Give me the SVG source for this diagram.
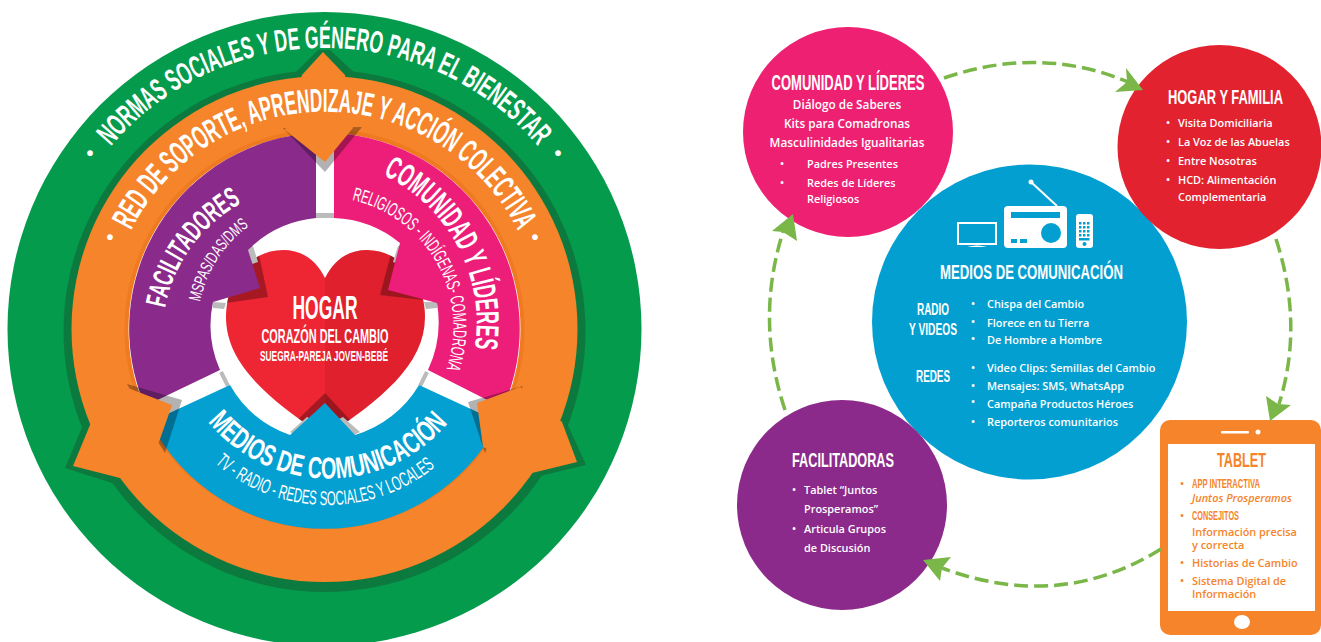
<svg xmlns="http://www.w3.org/2000/svg" width="1321" height="642" viewBox="0 0 1321 642">
<style>
text{fill:#fff;font-family:"Liberation Sans Narrow","Liberation Sans",sans-serif;font-weight:700}
.l{font-weight:400}
.b{font-family:"Open Sans","Noto Sans",sans-serif;font-weight:600;font-size:10.9px}
.c{font-size:11.800px}
.o{fill:#f5842b}
.m{text-anchor:middle}
.shade{fill:#000;fill-opacity:.3}
.conn{fill:none;stroke:#7ab648;stroke-width:3.5;stroke-dasharray:14 6}
.head{fill:#7ab648}
.gray{fill:none;stroke:#bbb;stroke-width:4}
.ic{fill:#049fd1}
</style>
<defs>
<path id="pg" d="M110.8,146.5A281,281 0 0 1 538.2,146.5"/>
<path id="po" d="M131,230.500A217,217 0 0 1 518,230.500"/>
<path id="pc" d="M383,175A164,164 0 0 1 475,347"/>
<path id="pr" d="M352,200A130,130 0 0 1 447,367"/>
<path id="pf" d="M165,308A151,151 0 0 1 242,203"/>
<path id="pd" d="M200,302A125,125 0 0 1 248,227"/>
<path id="pm" d="M208,422A156.600,156.600 0 0 0 448,423"/>
<path id="ps" d="M215,463A171,171 0 0 0 435,467"/>
<clipPath id="hc"><path d="M325,278C315,258 300,250 283,250C250,250 226,280 226,317C226,365 270,400 325,437C380,400 425,365 425,317C425,280 400,250 367,250C350,250 335,258 325,278Z"/></clipPath>
</defs>

<g id="normas">
<circle cx="324.500" cy="329" r="317" fill="#059b4d"/>
<circle cx="324.500" cy="331" r="261" fill="#0c7a3e"/>
<polygon points="293,75 318,50 330,50 357,75" fill="#0c7a3e"/>
<polygon points="558,420 567,423 586,465 536,477 525,482" fill="#0c7a3e"/>
<polygon points="90,420 85,420 65,468 115,484 125,482" fill="#0c7a3e"/>
<text font-size="31"><textPath href="#pg" textLength="485" lengthAdjust="spacingAndGlyphs">NORMAS SOCIALES Y DE GÉNERO PARA EL BIENESTAR</textPath></text>
<text class="m" x="90" y="160" font-size="20">•</text>
<text class="m" x="558" y="160" font-size="20">•</text>
</g>

<g id="red-soporte">
<circle cx="324.500" cy="329" r="253" fill="#f5842b"/>
<circle cx="324.500" cy="329" r="200" fill="#ef7a1f"/>
</g>

<g id="hogar">
<circle cx="324.500" cy="329" r="196" fill="#fff"/>
<path fill="#ee2533" d="M325,278C315,258 300,250 283,250C250,250 226,280 226,317C226,365 270,400 325,437Z"/>
<path fill="#e0202d" d="M325,278C335,258 350,250 367,250C400,250 425,280 425,317C425,365 380,400 325,437Z"/>
<g clip-path="url(#hc)">
<polygon class="shade" points="250,245 258,250 268,297 226,303 213,307 210,300"/>
<polygon class="shade" points="402,243 392,250 380,295 423,300 440,310 437,300"/>
<polygon class="shade" points="325,393 285,432 294,440 325,403 355,438 365,436"/>
</g>
<polygon fill="#bbb" points="246,246 253,246 258,262 252,264"/>
<polygon fill="#bbb" points="398,246 405,246 399,264 393,262"/>
<polygon fill="#bbb" points="213,302 226,303 224,309 213,308"/>
<polygon fill="#bbb" points="424,302 437,302 437,308 426,309"/>
<polygon fill="#bbb" points="307,417 315,421 299,437 290,432"/>
<polygon fill="#bbb" points="343,417 335,421 350,437 360,432"/>
<rect x="316" y="213" width="18" height="5" fill="#bbb"/>
<path class="gray" d="M221,372 228,386M427,372 420,386"/>
<text class="m" x="325" y="319" font-size="33" textLength="65" lengthAdjust="spacingAndGlyphs">HOGAR</text>
<text class="m" x="325" y="343" font-size="21" textLength="127" lengthAdjust="spacingAndGlyphs">CORAZÓN DEL CAMBIO</text>
<text class="m" x="324" y="361" font-size="15" textLength="128" lengthAdjust="spacingAndGlyphs">SUEGRA-PAREJA JOVEN-BEBÉ</text>
</g>

<g id="facilitadores">
<path fill="#8a2a8b" d="M220,370A111,111 0 0 1 213,302L260,288L248,250A111,111 0 0 1 316,218L316,133A196,196 0 0 0 145,406Z"/>
<text font-size="29"><textPath href="#pf" textLength="134" lengthAdjust="spacingAndGlyphs">FACILITADORES</textPath></text>
<text class="l" font-size="17"><textPath href="#pd" textLength="92" lengthAdjust="spacingAndGlyphs">MSPAS/DAS/DMS</textPath></text>
</g>

<g id="comunidad">
<path fill="#ed1e79" d="M334,218A111,111 0 0 1 400,243L388,290L437,303A113,113 0 0 1 428,370L503,408A196,196 0 0 0 334,133Z"/>
<text font-size="32"><textPath href="#pc" textLength="210" lengthAdjust="spacingAndGlyphs">COMUNIDAD Y LÍDERES</textPath></text>
<text class="l" font-size="19"><textPath href="#pr" textLength="218" lengthAdjust="spacingAndGlyphs">RELIGIOSOS - INDÍGENAS- COMADRONA</textPath></text>
</g>

<g id="medios">
<path fill="#04a0d2" d="M230,385A111,111 0 0 0 290,435L325,403L355,435A111,111 0 0 0 419,385L499,422A196,196 0 0 1 150,422Z"/>
<text font-size="30"><textPath href="#pm" textLength="273" lengthAdjust="spacingAndGlyphs">MEDIOS DE COMUNICACIÓN</textPath></text>
<text class="l" font-size="20"><textPath href="#ps" textLength="239" lengthAdjust="spacingAndGlyphs">TV - RADIO - REDES SOCIALES Y LOCALES</textPath></text>
</g>

<g id="flechas">
<polygon class="shade" points="283,128 325,172 362,127"/>
<polygon class="shade" points="523,386 468,402 485,453 490,440"/>
<polygon class="shade" points="127,384 182,400 165,453 158,442"/>
<polygon fill="#f5842b" points="302,75 323,52 345,75 353,128 325,162 285,130"/>
<polygon fill="#f5842b" points="520,387 562,422 577,462 532,473 483,447 477,403"/>
<polygon fill="#f5842b" points="128,388 172,405 159,442 120,478 73,466 90,425"/>
<text font-size="33"><textPath href="#po" textLength="478" lengthAdjust="spacingAndGlyphs">RED DE SOPORTE, APRENDIZAJE Y ACCIÓN COLECTIVA</textPath></text>
<text class="m" x="110" y="244" font-size="20">•</text>
<text class="m" x="535" y="244" font-size="20">•</text>
</g>

<g id="comunidad-lideres">
<circle cx="848" cy="132" r="105" fill="#ee2072"/>
<text class="m" x="848" y="90" font-size="22" textLength="153" lengthAdjust="spacingAndGlyphs">COMUNIDAD Y LÍDERES</text>
<text class="b c m" x="847" y="109">Diálogo de Saberes</text>
<text class="b c m" x="847" y="128">Kits para Comadronas</text>
<text class="b c m" x="847" y="147">Masculinidades Igualitarias</text>
<text class="b m" x="782" y="168">•</text>
<text class="b" x="807" y="168">Padres Presentes</text>
<text class="b m" x="782" y="187">•</text>
<text class="b" x="807" y="187">Redes de Líderes</text>
<text class="b" x="807" y="203">Religiosos</text>
</g>

<g id="medios-comunicacion">
<circle cx="1029.500" cy="322" r="157.500" fill="#049fd1"/>
<rect x="958" y="223" width="38" height="21" fill="none" stroke="#fff" stroke-width="2"/>
<path d="M967,247Q977,244 987,247Z" fill="#fff"/>
<rect x="1004" y="206" width="63" height="42" rx="4" fill="#fff"/>
<rect class="ic" x="1011" y="212" width="49" height="6"/>
<circle class="ic" cx="1051" cy="233" r="10"/>
<rect class="ic" x="1011" y="239" width="6" height="4"/>
<rect class="ic" x="1020" y="239" width="7" height="4"/>
<path d="M1057,206 1031,182" stroke="#fff" stroke-width="2" fill="none"/>
<circle cx="1031" cy="182" r="2.500" fill="#fff"/>
<rect x="1076" y="214" width="17" height="34" rx="3" fill="#fff"/>
<g class="ic">
<rect x="1079" y="222" width="2.500" height="2.500"/><rect x="1083" y="222" width="2.500" height="2.500"/><rect x="1087" y="222" width="2.500" height="2.500"/>
<rect x="1079" y="226" width="2.500" height="2.500"/><rect x="1083" y="226" width="2.500" height="2.500"/><rect x="1087" y="226" width="2.500" height="2.500"/>
<rect x="1079" y="230" width="2.500" height="2.500"/><rect x="1083" y="230" width="2.500" height="2.500"/><rect x="1087" y="230" width="2.500" height="2.500"/>
<rect x="1079" y="234" width="2.500" height="2.500"/><rect x="1083" y="234" width="2.500" height="2.500"/><rect x="1087" y="234" width="2.500" height="2.500"/>
<rect x="1079" y="238" width="10.500" height="2.500"/><circle cx="1084.500" cy="244" r="2"/>
</g>
<text class="m" x="1031.500" y="279" font-size="21" textLength="183" lengthAdjust="spacingAndGlyphs">MEDIOS DE COMUNICACIÓN</text>
<text class="m" x="933" y="315" font-size="16" textLength="32" lengthAdjust="spacingAndGlyphs">RADIO</text>
<text class="m" x="933" y="335" font-size="16" textLength="48" lengthAdjust="spacingAndGlyphs">Y VIDEOS</text>
<text class="m" x="933" y="382" font-size="16" textLength="34" lengthAdjust="spacingAndGlyphs">REDES</text>
<text class="b m" x="973" y="308">•</text><text class="b" x="987" y="308">Chispa del Cambio</text>
<text class="b m" x="973" y="326">•</text><text class="b" x="987" y="327">Florece en tu Tierra</text>
<text class="b m" x="973" y="343">•</text><text class="b" x="987" y="344">De Hombre a Hombre</text>
<text class="b m" x="973" y="372">•</text><text class="b" x="987" y="372">Video Clips: Semillas del Cambio</text>
<text class="b m" x="973" y="390">•</text><text class="b" x="987" y="390">Mensajes: SMS, WhatsApp</text>
<text class="b m" x="973" y="406">•</text><text class="b" x="987" y="408">Campaña Productos Héroes</text>
<text class="b m" x="973" y="426">•</text><text class="b" x="987" y="426">Reporteros comunitarios</text>
</g>

<g id="hogar-familia">
<circle cx="1219.500" cy="147" r="102" fill="#e2222f"/>
<text class="m" x="1225.500" y="104" font-size="21" textLength="115" lengthAdjust="spacingAndGlyphs">HOGAR Y FAMILIA</text>
<text class="b m" x="1168" y="127">•</text><text class="b" x="1178" y="127">Visita Domiciliaria</text>
<text class="b m" x="1168" y="146">•</text><text class="b" x="1178" y="146">La Voz de las Abuelas</text>
<text class="b m" x="1168" y="165">•</text><text class="b" x="1178" y="165">Entre Nosotras</text>
<text class="b m" x="1168" y="184">•</text><text class="b" x="1178" y="184">HCD: Alimentación</text>
<text class="b" x="1178" y="201">Complementaria</text>
</g>

<g id="facilitadoras">
<circle cx="842" cy="505" r="105" fill="#8c2a8b"/>
<text class="m" x="843" y="467" font-size="21" textLength="102" lengthAdjust="spacingAndGlyphs">FACILITADORAS</text>
<text class="b m" x="794" y="494">•</text><text class="b" x="804" y="494">Tablet “Juntos</text>
<text class="b" x="804" y="513">Prosperamos”</text>
<text class="b m" x="794" y="533">•</text><text class="b" x="804" y="533">Articula Grupos</text>
<text class="b" x="804" y="552">de Discusión</text>
</g>

<g id="tablet">
<rect x="1160" y="420" width="161" height="215" rx="10" fill="#f5842b"/>
<rect x="1168" y="444" width="147" height="167" fill="#fff"/>
<rect x="1221" y="431" width="28" height="2.500" rx="1" fill="#fff"/>
<circle cx="1258" cy="432" r="2.500" fill="#fff"/>
<ellipse cx="1242" cy="622" rx="8" ry="7" fill="#fff"/>
<text class="o m" x="1241.500" y="467" font-size="21" textLength="49" lengthAdjust="spacingAndGlyphs">TABLET</text>
<text class="b o m" x="1182" y="488">•</text>
<text class="o" x="1192" y="488" font-size="12" textLength="68" lengthAdjust="spacingAndGlyphs">APP INTERACTIVA</text>
<text class="b o" x="1192" y="502" font-style="italic">Juntos Prosperamos</text>
<text class="b o m" x="1182" y="520">•</text>
<text class="o" x="1192" y="520" font-size="12" textLength="47" lengthAdjust="spacingAndGlyphs">CONSEJITOS</text>
<text class="b o" x="1192" y="536">Información precisa</text>
<text class="b o" x="1192" y="549">y correcta</text>
<text class="b o m" x="1182" y="567">•</text><text class="b o" x="1192" y="567">Historias de Cambio</text>
<text class="b o m" x="1182" y="585">•</text><text class="b o" x="1192" y="585">Sistema Digital de</text>
<text class="b o" x="1192" y="598">Información</text>
</g>

<g id="conectores">
<path class="conn" d="M944,78Q1040,45 1128,82"/>
<polygon class="head" points="1143,90 1126,68 1127,82 1115,92"/>
<path class="conn" d="M1276,239Q1304,325 1279,404"/>
<polygon class="head" points="1270,421 1266,396 1278,404 1291,405"/>
<path class="conn" d="M1161,549Q1060,612 942,568"/>
<polygon class="head" points="923,560 951,557 942,568 940,581"/>
<path class="conn" d="M785,410Q755,320 783,232"/>
<polygon class="head" points="793,214 772,231 783,232 797,241"/>
</g>
</svg>
